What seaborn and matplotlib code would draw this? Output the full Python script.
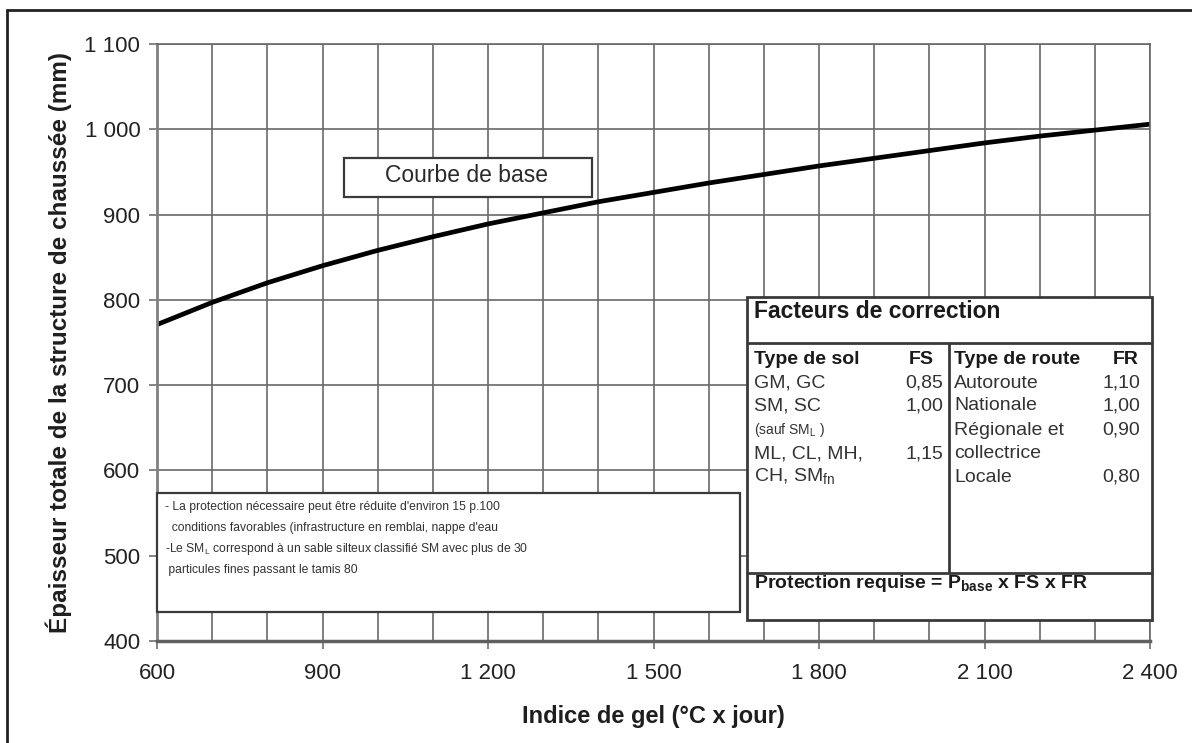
import matplotlib
matplotlib.use("Agg")
import numpy as np
import pandas as pd
import seaborn as sns
from matplotlib import pyplot as plt
from matplotlib.patches import Rectangle
from matplotlib.lines import Line2D
from matplotlib.ticker import MultipleLocator, FuncFormatter

# base curve
indice_gel = [600, 700, 800, 900, 1000, 1100, 1200, 1300, 1400, 1500,
              1600, 1700, 1800, 1900, 2000, 2100, 2200, 2300, 2400]
epaisseur = [771, 797, 820, 840, 858, 874, 889, 902, 915, 926,
             937, 947, 957, 966, 975, 984, 992, 999, 1006]

sol_types = ["GM, GC", "SM, SC", r"(sauf SM$_{\mathrm{L}}$ )", "ML, CL, MH,", r"CH, SM$_{\mathrm{fn}}$"]
sol_fs = ["0,85", "1,00", "", "1,15", ""]
route_types = ["Autoroute", "Nationale", "Régionale et", "collectrice", "Locale"]
route_fr = ["1,10", "1,00", "0,90", "", "0,80"]

notes = [
    "- La protection nécessaire peut être réduite d'environ 15 p.100",
    "  conditions favorables (infrastructure en remblai, nappe d'eau",
    r"-Le SM$_{\mathrm{L}}$ correspond à un sable silteux classifié SM avec plus de 30",
    " particules fines passant le tamis 80",
]

df = pd.DataFrame({"indice": indice_gel, "epaisseur": epaisseur})

sns.set_style("white")
plt.rcParams["font.family"] = ["Liberation Sans", "DejaVu Sans"]
plt.rcParams["mathtext.fontset"] = "custom"
plt.rcParams["mathtext.rm"] = "Liberation Sans"
plt.rcParams["mathtext.bf"] = "Liberation Sans:bold"

W, H = 1192, 743
fig = plt.figure(figsize=(W / 100, H / 100), dpi=100)
ax = fig.add_axes([157 / W, 1 - 641 / H, (1150 - 157) / W, (641 - 44) / H])

sns.lineplot(data=df, x="indice", y="epaisseur", color="black", linewidth=3.4, ax=ax)

ax.set_xlim(600, 2400)
ax.set_ylim(400, 1100)
ax.xaxis.set_major_locator(MultipleLocator(300))
ax.xaxis.set_minor_locator(MultipleLocator(100))
ax.yaxis.set_major_locator(MultipleLocator(100))
fmt = FuncFormatter(lambda v, p: f"{int(v):,}".replace(",", " "))
ax.xaxis.set_major_formatter(fmt)
ax.yaxis.set_major_formatter(fmt)
ax.grid(True, which="both", color="#686868", linewidth=1.2)
ax.set_axisbelow(True)
for s in ["top", "right"]:
    ax.spines[s].set_color("#686868")
    ax.spines[s].set_linewidth(1.2)
ax.spines["left"].set_color("#808080")
ax.spines["left"].set_linewidth(2)
ax.spines["bottom"].set_color("#606060")
ax.spines["bottom"].set_linewidth(2.5)
ax.tick_params(axis="both", which="major", labelsize=16, colors="#707070",
               labelcolor="#222222", length=6, width=1.2, left=True, bottom=True)
ax.tick_params(axis="x", pad=10)
ax.tick_params(axis="y", pad=6)
ax.tick_params(which="minor", length=0)
ax.set_xlabel("Indice de gel (°C x jour)", fontsize=17, fontweight="bold", color="#1e1e1e", labelpad=15)
ax.set_ylabel("Épaisseur totale de la structure de chaussée (mm)", fontsize=17.5,
              fontweight="bold", color="#1e1e1e", labelpad=9)


def fx(x):
    return x / W


def fy(y):
    return 1 - y / H


def box(x0, y0, x1, y1, lw=1.6):
    fig.add_artist(Rectangle((fx(x0), fy(y1)), fx(x1) - fx(x0), fy(y0) - fy(y1),
                             transform=fig.transFigure, facecolor="white",
                             edgecolor="#3a3a3a", linewidth=lw, zorder=5))


def line(x0, y0, x1, y1, lw=1.6, color="#3a3a3a"):
    fig.add_artist(Line2D([fx(x0), fx(x1)], [fy(y0), fy(y1)], transform=fig.transFigure,
                          color=color, linewidth=lw, zorder=6))


def txt(x, y, s, size=14, weight="normal", ha="left", color="#333333"):
    fig.text(fx(x), fy(y), s, fontsize=size, fontweight=weight, ha=ha, va="center",
             color=color, zorder=7)


# Courbe de base label
box(344, 158, 592, 197)
txt(467, 175, "Courbe de base", size=16.5, ha="center", color="#2a2a2a")

# correction factors table
box(747, 297, 1152, 620, lw=2)
line(747, 343, 1152, 343, lw=2)
line(949, 343, 949, 573, lw=2)
line(747, 573, 1152, 573, lw=2)
txt(754, 312, "Facteurs de correction", size=16.5, weight="bold", color="#1a1a1a")
txt(754, 360, "Type de sol", size=14, weight="bold", color="#1a1a1a")
txt(934, 360, "FS", size=14, weight="bold", ha="right", color="#1a1a1a")
txt(954, 360, "Type de route", size=14, weight="bold", color="#1a1a1a")
txt(1139, 360, "FR", size=14, weight="bold", ha="right", color="#1a1a1a")
row_y = [383, 406, 430, 454, 477]
for i, yy in enumerate(row_y):
    txt(754, yy, sol_types[i], size=10 if i == 2 else 14)
    txt(943, yy, sol_fs[i], ha="right")
    txt(954, yy, route_types[i])
    txt(1140, yy, route_fr[i], ha="right")
txt(754, 584, r"Protection requise = P$_{\mathbf{base}}$ x FS x FR", size=14,
    weight="bold", color="#1a1a1a")

# notes box
box(157, 493, 740, 612)
for yy, s in zip([507, 528, 549, 570], notes):
    txt(165, yy, s, size=8.7, color="#333333")

# outer frame
line(6.5, 9.5, 6.5, H, lw=2, color="#222222")
line(6.5, 9.5, W, 9.5, lw=2, color="#222222")

fig.savefig("out.png", dpi=100)
